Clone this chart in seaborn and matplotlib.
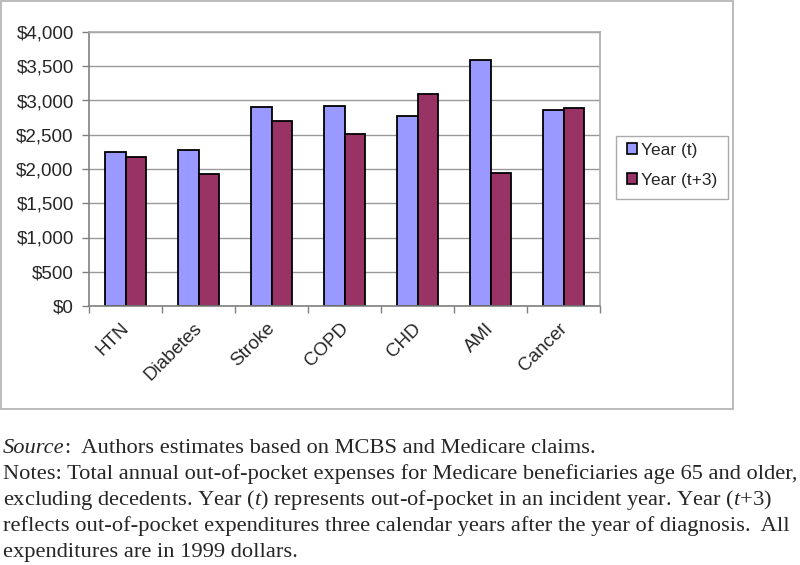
"""Out-of-pocket expenses by condition, Year (t) vs Year (t+3)."""

import matplotlib

matplotlib.use("Agg")

import matplotlib.pyplot as plt
import matplotlib.transforms as mtransforms
import pandas as pd
import seaborn as sns
from matplotlib.patches import Rectangle
from matplotlib.ticker import FuncFormatter, MultipleLocator

conditions = ["HTN", "Diabetes", "Stroke", "COPD", "CHD", "AMI", "Cancer"]
year_t = [2250, 2280, 2910, 2920, 2780, 3590, 2865]
year_t3 = [2170, 1930, 2700, 2510, 3100, 1940, 2885]
series_names = ["Year (t)", "Year (t+3)"]

source_note = "Source"
source_rest = ":  Authors estimates based on MCBS and Medicare claims."
notes_lines = [
    "Notes: Total annual out-of-pocket expenses for Medicare beneficiaries age 65 and older,",
    "excluding decedents. Year ($\\it{t}$) represents out-of-pocket in an incident year. Year ($\\it{t{+}3}$)",
    "reflects out-of-pocket expenditures three calendar years after the year of diagnosis.  All",
    "expenditures are in 1999 dollars.",
]

frame = pd.DataFrame({
    "condition": conditions * 2,
    "value": year_t + year_t3,
    "series": [series_names[0]] * len(conditions) + [series_names[1]] * len(conditions),
})

sns.set_style("white")
plt.rcParams["font.family"] = ["Liberation Sans", "DejaVu Sans"]
plt.rcParams["mathtext.fontset"] = "custom"
plt.rcParams["mathtext.it"] = "Liberation Serif:italic"
plt.rcParams["mathtext.rm"] = "Liberation Serif"

W, H = 800, 565
fig = plt.figure(figsize=(8, 5.65), dpi=100)
ax = fig.add_axes([89 / W, 1 - 306 / H, (600 - 89) / W, (306 - 32) / H])

colors = ["#9999FF", "#993366"]
sns.barplot(
    data=frame, x="condition", y="value", hue="series",
    palette=colors, saturation=1, width=0.575, gap=0,
    edgecolor="black", linewidth=1.3, ax=ax, legend=False,
)

ax.set_ylim(0, 4000)
ax.set_xlim(-0.5, len(conditions) - 0.5)
ax.yaxis.set_major_locator(MultipleLocator(500))
ax.yaxis.set_major_formatter(FuncFormatter(lambda v, _: f"${v:,.0f}"))
ax.grid(axis="y", color="#999999", linewidth=1)
ax.set_axisbelow(True)
ax.set_xlabel("")
ax.set_ylabel("")

# category labels sit at bar centres, tick marks at category boundaries
ax.set_xticks(range(len(conditions)))
ax.set_xticklabels(conditions, rotation=45, ha="right", rotation_mode="anchor", fontsize=13.5)
ax.tick_params(axis="x", length=0, pad=10)
shift = mtransforms.ScaledTranslation(-5 / 100, 0, fig.dpi_scale_trans)
for label in ax.get_xticklabels():
    label.set_transform(label.get_transform() + shift)
ax.set_xticks([i - 0.5 for i in range(len(conditions) + 1)], minor=True)
ax.tick_params(axis="x", which="minor", length=5, color="#808080", width=1, direction="out", bottom=True)
ax.tick_params(axis="y", length=5, color="#808080", width=1, direction="out", left=True, labelsize=13.5, pad=6)

for side in ["top", "right"]:
    ax.spines[side].set_color("#aaaaaa")
for side in ["left", "bottom"]:
    ax.spines[side].set_color("#808080")
for spine in ax.spines.values():
    spine.set_linewidth(1.2)

# legend: entries without frame, box drawn separately (wider side padding)
handles = [Rectangle((0, 0), 1, 1, facecolor=c, edgecolor="black", linewidth=1.2) for c in colors]
fig.legend(
    handles, series_names, loc="upper left",
    bbox_to_anchor=(627 / W, 1 - 143 / H), borderaxespad=0, borderpad=0, fontsize=12.5,
    handlelength=0.6, handleheight=0.6, handletextpad=0.2,
    labelspacing=0.85, frameon=False,
)
fig.patches.append(Rectangle((616 / W, 1 - 199 / H), 112 / W, 63 / H, transform=fig.transFigure,
                             facecolor="white", edgecolor="#aaaaaa", linewidth=1, zorder=0))

# outer chart border
fig.patches.append(Rectangle((1 / W, 1 - 409 / H), 732 / W, 408 / H, transform=fig.transFigure,
                             fill=False, edgecolor="#b0b0b0", linewidth=1.2))

# footnotes
serif = ["Liberation Serif", "DejaVu Serif"]
fsize = 16.2
y0 = 1 - 453 / H
src = fig.text(3 / W, y0, source_note, family=serif, style="italic", fontsize=fsize, va="baseline")
fig.canvas.draw()
bb = src.get_window_extent()
fig.text(bb.x1 / W, y0, source_rest, family=serif, fontsize=fsize, va="baseline")
for i, line in enumerate(notes_lines):
    fig.text(3 / W, 1 - (479 + 26 * i) / H, line, family=serif, fontsize=fsize, va="baseline")

fig.savefig("out.png", dpi=100)
